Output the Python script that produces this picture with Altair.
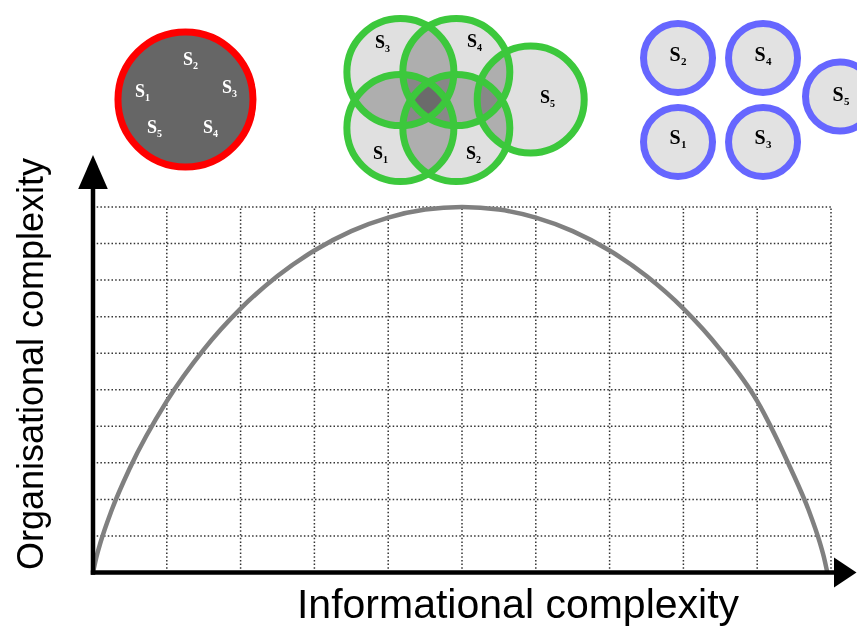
import altair as alt
import pandas as pd

# ---------------- data ----------------
# curve (informational vs organisational complexity)
curve_x = [0, 0.05, 0.1, 0.25, 0.5, 1.0, 1.5, 2.0, 2.5, 3.0, 3.5, 4.0, 4.5, 5.0,
           5.5, 6.0, 6.5, 7.0, 7.5, 8.0, 8.5, 9.0, 9.45, 9.7, 9.85, 9.9, 9.95]
curve_y = [0, 0.45, 0.81, 1.69, 2.86, 4.69, 6.10, 7.22, 8.11, 8.81, 9.34, 9.71, 9.93, 10.0,
           9.93, 9.71, 9.34, 8.81, 8.11, 7.22, 6.10, 4.69, 2.86, 1.69, 0.81, 0.45, 0]
grid_steps = [1, 2, 3, 4, 5, 6, 7, 8, 9, 10]

# red (fully merged) system
red_x = [1.253]
red_y = [12.941]
red_lab_n = ["1", "2", "3", "4", "5"]
red_lab_x = [0.637, 1.287, 1.816, 1.558, 0.799]
red_lab_y = [13.146, 14.022, 13.256, 12.162, 12.162]

# green (overlapping) system
green_n = ["1", "2", "3", "4", "5"]
green_x = [4.165, 4.923, 4.165, 4.923, 5.931]
green_y = [12.161, 12.161, 13.691, 13.691, 12.941]
green_lab_x = [3.862, 5.122, 3.889, 5.135, 6.125]
green_lab_y = [11.450, 11.450, 14.487, 14.515, 12.982]

# blue (separate) system
blue_n = ["1", "2", "3", "4", "5"]
blue_x = [7.927, 7.927, 9.079, 9.079, 10.122]
blue_y = [11.779, 14.077, 11.779, 14.077, 13.023]
blue_lab_x = [7.886, 7.886, 9.038, 9.038, 10.095]
blue_lab_y = [11.888, 14.159, 11.888, 14.159, 13.064]

x_title = "Informational complexity"
y_title = "Organisational complexity"

# ---------------- layout ----------------
W, H = 849, 619
X0_PX, PX_PER_X = 85.0, 73.8
Y0_PX, PX_PER_Y = 564.5, 36.55
x_domain = [-X0_PX / PX_PER_X, (W - X0_PX) / PX_PER_X]
y_domain = [-(H - Y0_PX) / PX_PER_Y, Y0_PX / PX_PER_Y]
xs = alt.Scale(domain=x_domain, nice=False, zero=False)
ys = alt.Scale(domain=y_domain, nice=False, zero=False)


def X(f):
    return alt.X(f, type="quantitative", scale=xs, axis=None)


def Y(f):
    return alt.Y(f, type="quantitative", scale=ys, axis=None)


layers = []

# grid
vgrid = pd.DataFrame({"x": grid_steps, "y": [0] * 10, "y2": [10] * 10})
hgrid = pd.DataFrame({"y": grid_steps, "x": [0] * 10, "x2": [10] * 10})
grid_style = dict(color="#333333", strokeWidth=1.5, strokeDash=[1.5, 2.2])
layers.append(alt.Chart(vgrid).mark_rule(**grid_style).encode(x=X("x"), y=Y("y"), y2="y2"))
layers.append(alt.Chart(hgrid).mark_rule(**grid_style).encode(y=Y("y"), x=X("x"), x2="x2"))

# curve
curve = pd.DataFrame({"x": curve_x, "y": curve_y})
layers.append(alt.Chart(curve).mark_line(color="#808080", strokeWidth=4.5,
                                         interpolate="monotone").encode(x=X("x"), y=Y("y")))

# axes with arrows
axis_v = pd.DataFrame({"x": [0], "y": [-0.06], "y2": [10.6]})
axis_h = pd.DataFrame({"y": [0], "x": [-0.03], "x2": [10.07]})
layers.append(alt.Chart(axis_v).mark_rule(color="black", strokeWidth=4.5).encode(x=X("x"), y=Y("y"), y2="y2"))
layers.append(alt.Chart(axis_h).mark_rule(color="black", strokeWidth=4.5).encode(y=Y("y"), x=X("x"), x2="x2"))
head_up = pd.DataFrame({"x": [0], "y": [10.958]})
head_right = pd.DataFrame({"x": [10.193], "y": [0]})
layers.append(alt.Chart(head_up).mark_point(shape="M0,-1L0.87,1L-0.87,1Z", size=1156, filled=True,
                                            color="black", opacity=1).encode(x=X("x"), y=Y("y")))
layers.append(alt.Chart(head_right).mark_point(shape="M1,0L-1,-1.33L-1,1.33Z", size=506, filled=True,
                                               color="black", opacity=1).encode(x=X("x"), y=Y("y")))

# red circle
red = pd.DataFrame({"x": red_x, "y": red_y})
layers.append(alt.Chart(red).mark_circle(size=18225, fill="#666666", stroke="#fe0000", strokeWidth=7,
                                         opacity=1).encode(x=X("x"), y=Y("y")))

# green circles: multiplied fills, then a dodge to lift the single layer, then rings
green = pd.DataFrame({"x": green_x, "y": green_y, "n": green_n})
layers.append(alt.Chart(green).mark_circle(size=11449, color="#c7c7c7", opacity=1,
                                           blend="multiply").encode(x=X("x"), y=Y("y")))
layers.append(alt.Chart(pd.DataFrame({"k": [0]})).mark_rect(color="#1c1c1c", opacity=1, blend="color-dodge").encode(
    x=alt.value(330), x2=alt.value(586), y=alt.value(2), y2=alt.value(184)))
layers.append(alt.Chart(green).mark_point(shape="circle", size=11449, filled=False, stroke="#3cc83c",
                                          strokeWidth=7, opacity=1).encode(x=X("x"), y=Y("y")))

# blue circles
blue = pd.DataFrame({"x": blue_x, "y": blue_y})
layers.append(alt.Chart(blue).mark_circle(size=4761, fill="#e2e2e2", stroke="#6666ff", strokeWidth=7,
                                          opacity=1).encode(x=X("x"), y=Y("y")))


def labels(lx, ly, ln, color, fs, sub_fs, dx_sub, dy_sub):
    df = pd.DataFrame({"x": lx, "y": ly, "n": ln, "s": ["S"] * len(lx)})
    base = alt.Chart(df)
    s = base.mark_text(font="Liberation Serif", fontWeight="bold", fontSize=fs, color=color,
                       align="center", baseline="middle").encode(x=X("x"), y=Y("y"), text="s:N")
    sub = base.mark_text(font="Liberation Serif", fontWeight="bold", fontSize=sub_fs, color=color,
                         align="left", baseline="alphabetic", dx=dx_sub, dy=dy_sub).encode(
        x=X("x"), y=Y("y"), text="n:N")
    return [s, sub]


layers += labels(red_lab_x, red_lab_y, red_lab_n, "white", 18, 10, 5, 9)
layers += labels(green_lab_x, green_lab_y, green_n, "black", 18, 10, 5, 9)
layers += labels(blue_lab_x, blue_lab_y, blue_n, "black", 20, 11, 6, 10)

# axis titles
xt = pd.DataFrame({"x": [5.759], "y": [-1.245], "t": [x_title]})
yt = pd.DataFrame({"x": [-0.6775], "y": [5.705], "t": [y_title]})
layers.append(alt.Chart(xt).mark_text(font="Liberation Sans", fontSize=41, color="black", align="center",
                                      baseline="alphabetic").encode(x=X("x"), y=Y("y"), text="t:N"))
layers.append(alt.Chart(yt).mark_text(font="Liberation Sans", fontSize=36, color="black", align="center",
                                      baseline="alphabetic", angle=270).encode(x=X("x"), y=Y("y"), text="t:N"))

chart = alt.layer(*layers).properties(
    width=W, height=H, padding=0, autosize=alt.AutoSizeParams(type="none"), background="white"
).configure_view(stroke=None)

chart.save("out.html", embed_options={"renderer": "svg", "actions": False})
